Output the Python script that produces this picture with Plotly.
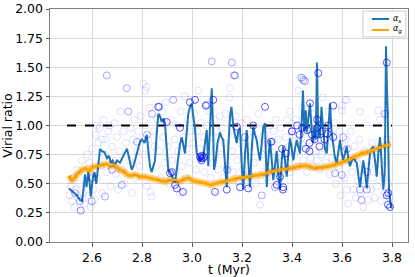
import plotly.graph_objects as go

# ---- data ----
ts_t = [2.508,2.52,2.53,2.54,2.552,2.56,2.566,2.572,2.578,2.585,2.590,2.595,2.603,2.61,2.617,2.624,2.632,2.64,2.65,2.66,
        2.668,2.675,2.682,2.69,2.70,2.712,2.72,2.73,2.74,2.748,2.759,2.767,2.775,2.784,2.792,2.80,2.81,2.819,2.826,2.832,
        2.839,2.846,2.852,2.858,2.865,2.872,2.879,2.886,2.892,2.899,2.905,2.912,2.919,2.925,2.932,2.939,2.945,2.952,2.959,2.965,
        2.972,2.979,2.985,2.992,2.999,3.005,3.012,3.019,3.026,3.032,3.039,3.045,3.052,3.059,3.065,3.072,3.079,3.084,3.088,3.095,
        3.102,3.112,3.118,3.125,3.132,3.139,3.145,3.152,3.158,3.165,3.172,3.179,3.185,3.192,3.198,3.205,3.212,3.219,3.225,3.232,
        3.239,3.245,3.252,3.259,3.265,3.272,3.279,3.285,3.292,3.299,3.305,3.312,3.319,3.325,3.332,3.339,3.345,3.352,3.359,3.365,
        3.372,3.379,3.385,3.392,3.399,3.405,3.412,3.419,3.425,3.432,3.438,3.444,3.449,3.455,3.459,3.466,3.472,3.479,3.485,3.490,
        3.495,3.500,3.505,3.512,3.518,3.525,3.532,3.539,3.545,3.552,3.558,3.565,3.572,3.579,3.586,3.592,3.598,3.604,3.612,3.619,
        3.625,3.632,3.639,3.645,3.652,3.659,3.665,3.672,3.678,3.685,3.692,3.699,3.705,3.712,3.719,3.725,3.732,3.739,3.745,3.752,
        3.758,3.765,3.771,3.776,3.780,3.783,3.788,3.792,3.796,3.80]
alpha_s = [0.46,0.44,0.42,0.40,0.36,0.35,0.45,0.58,0.47,0.60,0.52,0.39,0.55,0.60,0.50,0.62,0.80,0.78,0.77,0.72,
           0.74,0.68,0.70,0.66,0.70,0.68,0.72,0.76,0.80,0.72,0.62,0.66,0.72,0.80,0.86,0.88,0.85,0.92,0.80,0.65,
           0.60,0.66,0.70,0.90,1.10,1.08,1.03,1.06,1.02,0.80,0.62,0.60,0.57,0.55,0.51,0.62,0.73,0.84,0.90,0.82,
           0.76,0.95,1.10,1.16,1.19,1.08,0.98,0.76,0.74,0.70,0.72,0.73,0.85,0.96,0.65,0.95,1.32,1.00,0.62,0.70,
           0.85,0.94,0.90,0.875,0.70,0.47,0.80,1.08,1.16,0.99,0.92,0.85,0.95,0.98,0.70,0.45,0.75,0.96,0.70,0.47,
           0.80,0.99,0.92,0.875,0.78,0.70,0.85,0.99,1.02,0.47,0.70,0.875,0.70,0.53,0.66,0.78,0.60,0.45,0.70,0.82,
           0.70,0.56,0.75,0.89,0.80,0.70,0.80,0.875,0.82,0.76,1.00,1.30,0.95,1.13,0.94,1.05,1.19,0.95,0.85,1.00,
           0.88,1.54,0.90,0.90,1.16,0.95,0.80,0.76,0.95,1.19,0.95,0.82,0.72,0.68,0.80,0.875,0.78,0.70,0.76,0.82,
           0.72,0.65,0.70,0.73,0.70,0.68,0.58,0.47,0.58,0.70,0.60,0.46,0.60,0.76,0.80,0.82,0.70,0.56,0.75,0.90,
           0.70,0.45,0.60,1.68,1.30,1.11,0.45,0.35,0.30,0.29]

tg_t = [2.508,2.52,2.53,2.54,2.55,2.56,2.575,2.59,2.60,2.62,2.64,2.66,2.675,2.69,2.70,2.71,2.725,2.74,2.755,2.77,
        2.79,2.81,2.83,2.85,2.87,2.89,2.91,2.93,2.95,2.97,2.985,3.00,3.02,3.04,3.06,3.075,3.09,3.11,3.13,3.15,
        3.17,3.19,3.21,3.23,3.25,3.27,3.29,3.31,3.33,3.35,3.37,3.40,3.43,3.46,3.48,3.50,3.52,3.55,3.58,3.60,
        3.62,3.64,3.66,3.68,3.71,3.73,3.75,3.77,3.795]
alpha_g = [0.57,0.53,0.55,0.58,0.60,0.62,0.63,0.61,0.64,0.65,0.66,0.67,0.65,0.66,0.64,0.62,0.61,0.58,0.57,0.58,
           0.56,0.56,0.55,0.54,0.53,0.52,0.53,0.53,0.52,0.54,0.55,0.53,0.52,0.51,0.50,0.49,0.50,0.51,0.52,0.53,
           0.54,0.55,0.555,0.56,0.57,0.575,0.585,0.60,0.61,0.62,0.625,0.635,0.65,0.655,0.64,0.635,0.64,0.65,0.67,0.685,
           0.70,0.72,0.74,0.76,0.775,0.795,0.81,0.825,0.84]

dark_t = [2.865,2.899,2.952,2.992,3.012,3.085,3.055,3.032,3.036,3.040,3.044,3.048,3.038,2.919,2.932,3.092,3.139,3.179,3.245,3.292,
          3.192,3.225,3.339,3.365,3.472,3.505,3.565,3.779,3.792,3.779,3.565,3.40,3.42,3.44,3.46,3.48,3.50,3.52,3.54,3.47,
          3.49,3.51,3.43,3.36,3.375,3.47,3.53,3.544,3.50,3.455,3.316,3.352,3.364,3.784,3.785,2.912,2.939,2.964]
dark_v = [1.16,1.03,0.98,1.20,1.22,1.22,1.17,0.73,0.72,0.74,0.72,0.73,0.70,0.60,0.49,0.43,0.45,0.99,1.00,1.16,
          0.47,0.46,0.49,0.47,1.19,1.45,1.17,1.54,0.30,0.40,0.90,0.95,1.00,0.98,0.96,0.92,0.98,0.95,0.93,0.85,
          0.88,0.82,0.92,0.80,0.76,0.78,0.88,1.00,1.05,0.80,0.86,0.56,0.45,0.32,0.42,0.59,0.46,0.43]

mid_t = [2.552,2.599,2.532,2.555,2.719,2.652,3.445,3.439,3.452,3.172,3.212,3.319,3.399,3.772,3.572,3.599,3.605,3.672,3.678,3.699,
         3.332,3.059,2.869,2.78,2.82,2.84,2.60,2.68,3.14,3.62,3.70,2.659,2.739,2.745,2.925,3.079,3.159,3.168,3.279]
mid_v = [0.35,0.35,0.42,0.27,0.49,0.39,1.39,1.41,1.38,1.43,0.90,0.86,0.95,1.10,0.59,0.575,0.90,0.45,0.36,0.45,
         0.47,1.18,1.16,0.86,0.92,1.10,0.55,0.62,0.62,0.80,0.60,1.43,1.32,1.12,1.22,1.55,1.54,1.43,0.40]

light_t = [2.51,2.515,2.52,2.525,2.53,2.535,2.54,2.545,2.55,2.555,2.56,2.565,2.57,2.575,2.58,2.585,2.59,2.595,2.60,2.605,2.61,
           2.615,2.62,2.625,2.63,2.635,2.64,2.645,2.65,2.655,2.66,2.665,2.67,2.675,2.68,2.685,2.69,2.695,2.70,2.705,2.62,2.64,
           2.71,2.715,2.72,2.725,2.73,2.735,2.75,2.755,2.76,2.765,2.77,2.775,2.78,2.785,2.79,2.795,
           2.805,2.812,2.819,2.81,2.815,2.82,2.825,2.83,2.835,2.839,2.845,2.85,2.855,2.86,2.87,2.875,2.88,2.885,2.89,2.895,
           2.905,2.91,2.915,2.92,2.93,2.935,2.94,2.945,2.95,2.955,2.96,2.965,2.97,2.975,2.98,2.985,2.99,2.995,
           3.005,3.01,3.015,3.02,3.025,3.03,3.035,3.045,3.05,3.06,3.065,3.07,3.075,3.08,3.085,3.09,3.095,3.10,
           3.105,3.11,3.115,3.12,3.125,3.13,3.135,3.14,3.149,3.152,3.16,3.165,3.17,3.175,3.18,3.185,3.19,3.195,
           3.205,3.21,3.215,3.22,3.23,3.235,3.24,3.25,3.255,3.26,3.265,3.272,3.28,3.285,3.29,3.295,3.30,
           3.305,3.31,3.315,3.32,3.325,3.33,3.335,3.34,3.345,3.35,3.355,3.36,3.37,3.375,3.38,3.385,3.39,3.392,3.395,
           3.405,3.41,3.415,3.425,3.432,3.42,3.435,3.44,3.445,3.45,3.455,3.46,3.465,3.47,3.475,3.48,3.485,3.49,3.495,
           3.50,3.505,3.51,3.515,3.523,3.52,3.53,3.535,3.54,3.545,3.55,3.555,3.56,3.57,3.575,3.58,3.585,3.59,3.595,3.599,3.599,
           3.605,3.612,3.619,3.61,3.615,3.62,3.625,3.63,3.635,3.64,3.645,3.65,3.655,3.66,3.665,3.672,3.67,3.675,3.68,3.685,3.69,3.695,
           3.705,3.71,3.715,3.72,3.725,3.73,3.735,3.74,3.745,3.752,3.75,3.755,3.76,3.765,3.77,3.775,3.78,3.785,3.79]
light_v = [0.40,0.48,0.35,0.55,0.30,0.45,0.62,0.38,0.50,0.27,0.70,0.42,0.33,0.58,0.75,0.40,0.68,0.30,0.80,0.45,0.36,
           0.92,0.55,0.85,0.98,0.65,0.42,1.05,0.75,0.88,0.60,0.95,1.00,0.48,0.82,0.70,1.02,0.58,0.90,0.45,1.00,0.88,
           0.78,1.12,0.62,0.95,0.50,0.85,0.70,0.98,0.42,0.88,1.05,0.55,0.78,0.95,0.65,1.08,
           1.36,1.30,1.33,0.75,1.00,0.48,0.88,1.15,0.43,0.39,0.95,0.82,0.65,1.05,0.78,0.55,1.12,0.90,0.68,1.20,
           0.82,0.50,1.05,0.70,0.88,0.60,1.00,0.78,0.42,1.12,0.65,0.90,1.25,0.55,0.80,1.05,0.68,0.95,
           0.85,1.10,0.62,0.95,1.30,0.80,1.02,0.90,0.60,1.00,0.78,1.12,0.55,0.90,0.68,1.05,0.80,0.95,
           0.62,1.08,0.75,0.98,0.55,0.85,1.10,0.65,1.24,1.32,0.78,0.60,0.92,1.08,0.70,0.52,0.85,1.02,
           0.62,0.90,0.75,1.05,0.58,0.82,0.95,0.68,0.50,0.88,1.10,0.32,0.75,0.60,0.92,0.80,0.55,
           0.85,1.00,0.65,0.78,0.95,0.60,1.05,0.72,0.88,0.55,0.98,0.70,0.62,0.90,1.05,0.68,0.82,1.12,0.60,
           0.92,0.75,1.05,1.30,1.41,0.65,0.88,1.15,0.70,0.95,1.08,0.60,0.82,1.00,0.72,1.10,0.65,0.90,0.78,
           0.70,1.05,0.62,0.88,1.24,0.75,1.00,0.68,0.82,1.12,0.58,0.92,0.72,1.02,0.50,0.85,0.65,0.95,0.40,1.17,1.13,
           0.78,1.22,1.22,0.55,0.88,0.45,0.33,0.70,0.95,0.60,0.45,0.82,0.38,0.68,0.52,1.12,0.88,0.42,0.62,0.30,0.78,0.50,
           0.36,0.65,0.45,0.85,0.55,0.38,0.72,0.48,1.13,1.05,0.62,0.35,0.80,0.55,0.42,0.70,0.88,0.50,0.38]

dash_t = [2.5, 3.8]
dash_v = [1.0, 1.0]

x_ticks = [2.6, 2.8, 3.0, 3.2, 3.4, 3.6, 3.8]
y_ticks = [0.0, 0.25, 0.5, 0.75, 1.0, 1.25, 1.5, 1.75, 2.0]

legend_labels = ["<i>α<sub>s</sub></i>", "<i>α<sub>g</sub></i>"]
legend_colors = ["#1f77b4", "#ffa500"]

FONT = "DejaVu Sans"
fig = go.Figure()

fig.add_trace(go.Scatter(x=dash_t, y=dash_v, mode="lines", showlegend=False,
                         line=dict(color="black", width=2, dash="dash"), hoverinfo="skip"))
# alpha_g halo + line
fig.add_trace(go.Scatter(x=tg_t, y=alpha_g, mode="lines", showlegend=False,
                         line=dict(color="rgba(255,165,0,0.45)", width=7, shape="spline", smoothing=0.6), hoverinfo="skip"))
fig.add_trace(go.Scatter(x=ts_t, y=alpha_s, mode="lines", name=legend_labels[0], showlegend=False,
                         line=dict(color=legend_colors[0], width=2)))
fig.add_trace(go.Scatter(x=tg_t, y=alpha_g, mode="lines", name=legend_labels[1], showlegend=False,
                         line=dict(color=legend_colors[1], width=3, shape="spline", smoothing=0.6)))

for tt, vv, a in [(light_t, light_v, 0.12), (mid_t, mid_v, 0.35), (dark_t, dark_v, 0.65)]:
    fig.add_trace(go.Scatter(x=tt, y=vv, mode="markers", showlegend=False, hoverinfo="skip",
                             marker=dict(symbol="circle-open", size=7,
                                         color=f"rgba(0,0,255,{a})", line=dict(width=1))))

# compact legend box (matplotlib style)
fig.add_shape(type="rect", xref="paper", yref="paper", x0=0.874, x1=0.994, y0=0.880, y1=0.991,
              line=dict(color="#cccccc", width=1), fillcolor="rgba(255,255,255,0.85)", layer="above")
for i, (lab, col) in enumerate(zip(legend_labels, legend_colors)):
    yy = 0.957 - i * 0.047
    fig.add_shape(type="line", xref="paper", yref="paper", x0=0.899, x1=0.947, y0=yy, y1=yy,
                  line=dict(color=col, width=2), layer="above")
    fig.add_annotation(xref="paper", yref="paper", x=0.953, y=yy, text=lab, showarrow=False,
                       xanchor="left", yanchor="middle", font=dict(family=FONT, size=8, color="black"))

axis_common = dict(showgrid=True, gridcolor="#d9d9d9", gridwidth=1, showline=True, linecolor="#7f7f7f",
                   linewidth=1, mirror=True, ticks="outside", ticklen=3.5, tickcolor="#555555",
                   tickfont=dict(family=FONT, size=12.5, color="black"), zeroline=False, automargin=False)

fig.update_layout(
    width=415, height=277,
    margin=dict(l=50, r=7, t=9, b=35),
    paper_bgcolor="white", plot_bgcolor="white",
    font=dict(family=FONT, size=12.5, color="black"),
    showlegend=False,
    xaxis=dict(range=[2.432, 3.864], tickvals=x_ticks, ticktext=[f"{v:.1f}" for v in x_ticks],
               title=dict(text="t (Myr)", font=dict(family=FONT, size=12.5), standoff=6), **axis_common),
    yaxis=dict(range=[0, 2.0], tickvals=y_ticks, ticktext=[f"{v:.2f}" for v in y_ticks],
               title=dict(text="Virial ratio", font=dict(family=FONT, size=12.5), standoff=4), **axis_common),
)

fig.write_html("out.html", config={"displayModeBar": False},
               post_script="document.body.style.margin='0';document.body.style.overflow='hidden';")
